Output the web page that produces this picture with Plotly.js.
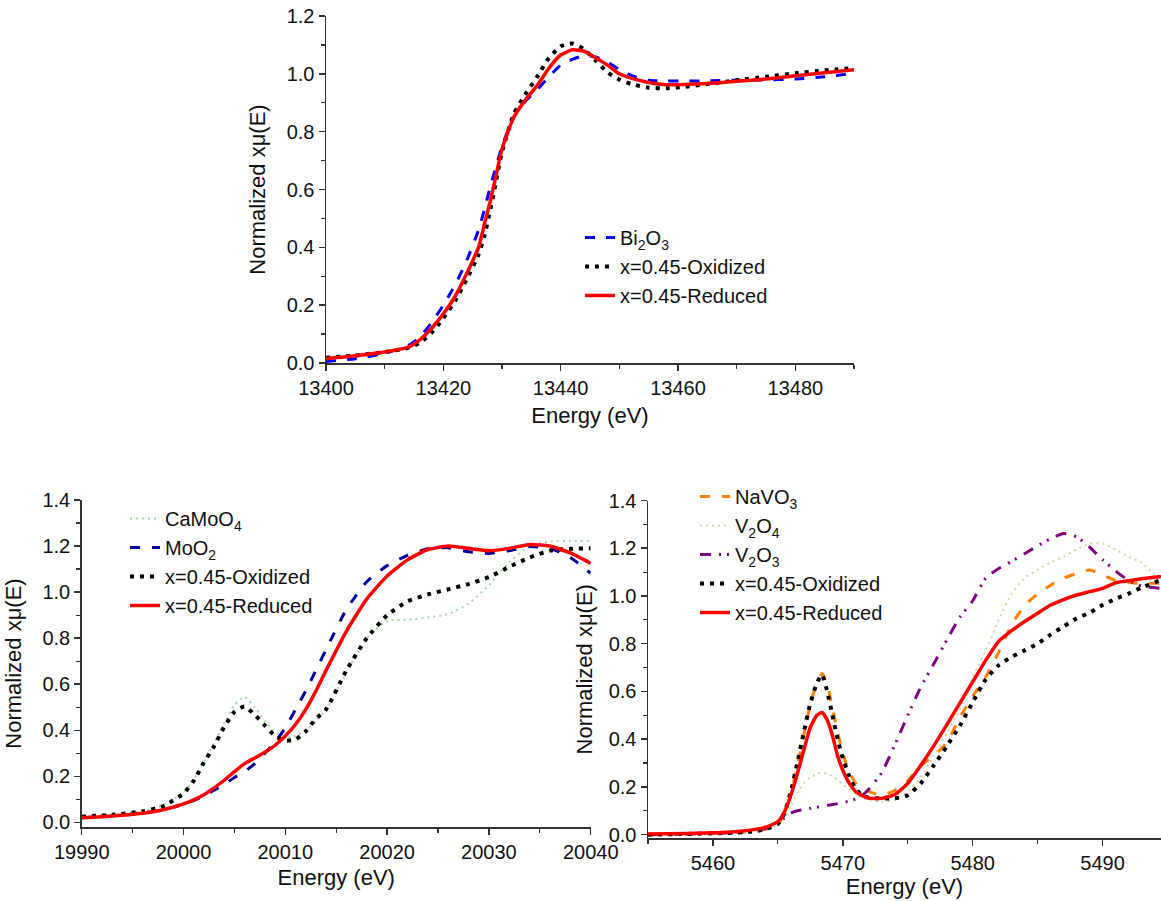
<!DOCTYPE html>
<html>
<head>
<meta charset="utf-8">
<script src="https://cdn.plot.ly/plotly-3.0.1.min.js"></script>
<style>html,body{margin:0;padding:0;background:#fff;}#chart{width:1161px;height:901px;}</style>
</head>
<body>
<div id="chart"></div>
<script>
// ---------- Top panel: Bi L3 edge ----------
const energyBi = [13400, 13405, 13410, 13414, 13416, 13418, 13420, 13422, 13424, 13426, 13427, 13428, 13429, 13430, 13432, 13434, 13436, 13438, 13440, 13442, 13444, 13446, 13448, 13450, 13452, 13455, 13458, 13461, 13465, 13470, 13475, 13480, 13485, 13490];
const bi2o3 = [0.005, 0.015, 0.033, 0.06, 0.09, 0.14, 0.2, 0.27, 0.355, 0.46, 0.53, 0.61, 0.68, 0.75, 0.85, 0.905, 0.945, 0.99, 1.03, 1.05, 1.063, 1.058, 1.04, 1.015, 0.995, 0.978, 0.975, 0.975, 0.976, 0.978, 0.979, 0.982, 0.99, 1.002];
const biOxidized = [0.018, 0.026, 0.038, 0.052, 0.07, 0.105, 0.155, 0.215, 0.29, 0.375, 0.44, 0.53, 0.63, 0.73, 0.86, 0.93, 0.99, 1.055, 1.095, 1.105, 1.085, 1.045, 1.005, 0.98, 0.965, 0.952, 0.95, 0.955, 0.965, 0.978, 0.99, 1.002, 1.012, 1.02];
const biReduced = [0.015, 0.025, 0.038, 0.055, 0.08, 0.12, 0.17, 0.23, 0.31, 0.40, 0.48, 0.56, 0.65, 0.74, 0.85, 0.91, 0.96, 1.02, 1.065, 1.083, 1.078, 1.055, 1.03, 1.0, 0.985, 0.97, 0.962, 0.963, 0.967, 0.974, 0.982, 0.993, 1.004, 1.014];

// ---------- Bottom-left panel: Mo K edge ----------
const energyMo = [19990, 19993, 19996, 19998, 20000, 20001, 20002, 20003, 20004, 20005, 20006, 20007, 20008, 20009, 20010, 20011, 20012, 20013, 20014, 20016, 20018, 20020, 20022, 20024, 20026, 20028, 20030, 20032, 20034, 20036, 20038, 20040];
const camoo4 = [0.025, 0.035, 0.05, 0.075, 0.13, 0.185, 0.265, 0.345, 0.43, 0.51, 0.545, 0.5, 0.44, 0.39, 0.37, 0.375, 0.4, 0.44, 0.49, 0.65, 0.8, 0.875, 0.88, 0.89, 0.905, 0.95, 1.03, 1.13, 1.2, 1.22, 1.222, 1.222];
const moo2 = [0.02, 0.028, 0.04, 0.055, 0.078, 0.095, 0.115, 0.14, 0.165, 0.195, 0.22, 0.255, 0.3, 0.35, 0.41, 0.49, 0.57, 0.66, 0.75, 0.925, 1.045, 1.115, 1.16, 1.188, 1.193, 1.175, 1.168, 1.18, 1.198, 1.19, 1.15, 1.082];
const moOxidized = [0.025, 0.033, 0.048, 0.07, 0.125, 0.18, 0.26, 0.33, 0.415, 0.48, 0.503, 0.467, 0.42, 0.375, 0.355, 0.36, 0.395, 0.45, 0.49, 0.66, 0.8, 0.9, 0.96, 0.99, 1.012, 1.035, 1.065, 1.11, 1.15, 1.18, 1.188, 1.19];
const moReduced = [0.02, 0.028, 0.04, 0.055, 0.08, 0.098, 0.12, 0.15, 0.183, 0.22, 0.255, 0.28, 0.305, 0.335, 0.375, 0.425, 0.49, 0.57, 0.66, 0.83, 0.97, 1.07, 1.14, 1.185, 1.2, 1.19, 1.18, 1.19, 1.207, 1.2, 1.17, 1.125];

// ---------- Bottom-right panel: V K edge ----------
const energyV = [5455, 5458, 5461, 5463, 5464, 5465, 5465.5, 5466, 5466.5, 5467, 5467.5, 5468, 5468.4, 5468.8, 5469.2, 5469.6, 5470, 5470.5, 5471, 5471.5, 5472, 5473, 5474, 5475, 5476, 5477, 5478, 5479, 5480, 5481, 5482, 5483, 5484, 5485, 5486, 5487, 5488, 5489, 5490, 5491, 5492, 5493, 5494.5];
const navo3 = [0.0, 0.003, 0.007, 0.013, 0.022, 0.045, 0.085, 0.17, 0.29, 0.42, 0.545, 0.635, 0.675, 0.63, 0.53, 0.43, 0.34, 0.26, 0.215, 0.195, 0.18, 0.165, 0.185, 0.225, 0.29, 0.33, 0.385, 0.49, 0.58, 0.66, 0.765, 0.88, 0.96, 1.008, 1.045, 1.075, 1.094, 1.109, 1.088, 1.065, 1.056, 1.053, 1.053];
const v2o4 = [0.0, 0.003, 0.007, 0.013, 0.022, 0.04, 0.07, 0.12, 0.175, 0.215, 0.24, 0.255, 0.26, 0.255, 0.245, 0.23, 0.21, 0.19, 0.17, 0.155, 0.145, 0.138, 0.145, 0.18, 0.24, 0.33, 0.425, 0.523, 0.66, 0.77, 0.9, 1.01, 1.075, 1.11, 1.14, 1.165, 1.195, 1.22, 1.22, 1.195, 1.165, 1.14, 1.06];
const v2o3 = [0.0, 0.003, 0.007, 0.013, 0.025, 0.045, 0.07, 0.09, 0.1, 0.105, 0.11, 0.115, 0.12, 0.123, 0.126, 0.13, 0.135, 0.14, 0.15, 0.165, 0.19, 0.26, 0.375, 0.5, 0.618, 0.715, 0.815, 0.91, 0.98, 1.075, 1.115, 1.145, 1.177, 1.21, 1.24, 1.262, 1.248, 1.205, 1.152, 1.105, 1.065, 1.042, 1.032];
const vOxidized = [0.0, 0.003, 0.007, 0.013, 0.022, 0.045, 0.09, 0.18, 0.3, 0.43, 0.55, 0.635, 0.67, 0.6, 0.5, 0.4, 0.32, 0.245, 0.19, 0.165, 0.155, 0.152, 0.152, 0.165, 0.215, 0.29, 0.37, 0.455, 0.555, 0.65, 0.71, 0.745, 0.772, 0.8, 0.838, 0.872, 0.906, 0.93, 0.962, 0.988, 1.01, 1.035, 1.067];
const vReduced = [0.003, 0.005, 0.01, 0.02, 0.03, 0.055, 0.095, 0.165, 0.255, 0.355, 0.45, 0.5, 0.512, 0.48, 0.415, 0.33, 0.27, 0.215, 0.18, 0.163, 0.153, 0.152, 0.168, 0.215, 0.29, 0.372, 0.46, 0.55, 0.64, 0.73, 0.81, 0.855, 0.893, 0.928, 0.962, 0.985, 1.004, 1.018, 1.032, 1.055, 1.064, 1.072, 1.082];

const labelOx = 'x=0.45-Oxidized';
const labelRed = 'x=0.45-Reduced';

const FONT = 'Arial, "Liberation Sans", sans-serif';
const sm = {shape: 'spline', smoothing: 0.5};

function tr(x, y, name, xa, ya, leg, line) {
  return {x: x, y: y, name: name, type: 'scatter', mode: 'lines', xaxis: xa, yaxis: ya,
          legend: leg, line: Object.assign({}, sm, line), hoverinfo: 'x+y+name'};
}

const dotBlack = {color: '#000000', width: 4, dash: '4px,6px'};
const solidRed = {color: '#ff0000', width: 3.5};

const data = [
  tr(energyBi, bi2o3, 'Bi<sub>2</sub>O<sub>3</sub>', 'x', 'y', 'legend', {color: '#0000ff', width: 3, dash: '10px,11px'}),
  tr(energyBi, biOxidized, labelOx, 'x', 'y', 'legend', dotBlack),
  tr(energyBi, biReduced, labelRed, 'x', 'y', 'legend', solidRed),

  tr(energyMo, camoo4, 'CaMoO<sub>4</sub>', 'x2', 'y2', 'legend2', {color: '#a3d6a3', width: 2, dash: '2px,4px'}),
  tr(energyMo, moo2, 'MoO<sub>2</sub>', 'x2', 'y2', 'legend2', {color: '#00009c', width: 3, dash: '10px,12px'}),
  tr(energyMo, moOxidized, labelOx, 'x2', 'y2', 'legend2', dotBlack),
  tr(energyMo, moReduced, labelRed, 'x2', 'y2', 'legend2', solidRed),

  tr(energyV, navo3, 'NaVO<sub>3</sub>', 'x3', 'y3', 'legend3', {color: '#ff8000', width: 3, dash: '10px,12px'}),
  tr(energyV, v2o4, 'V<sub>2</sub>O<sub>4</sub>', 'x3', 'y3', 'legend3', {color: '#d8d2a4', width: 2, dash: '2px,4px'}),
  tr(energyV, v2o3, 'V<sub>2</sub>O<sub>3</sub>', 'x3', 'y3', 'legend3', {color: '#800080', width: 3, dash: '11px,8px,2px,6px,2px,8px'}),
  tr(energyV, vOxidized, labelOx, 'x3', 'y3', 'legend3', dotBlack),
  tr(energyV, vReduced, labelRed, 'x3', 'y3', 'legend3', solidRed)
];

const W = 1161, H = 901;
function xd(a, b) { return [a / W, b / W]; }
function yd(top, bottom) { return [1 - bottom / H, 1 - top / H]; }

const tickFont = {family: FONT, size: 20, color: '#111111'};
const titleFont = {family: FONT, size: 22, color: '#111111'};

function xAxis(domain, range, dtick, minor, anchor, standoff) {
  return {domain: domain, range: range, anchor: anchor, showline: true, linecolor: '#333333', linewidth: 1.5,
          ticks: 'outside', ticklen: 6, tickwidth: 1.5, tickcolor: '#333333', dtick: dtick, tick0: 0,
          minor: {ticks: 'outside', ticklen: 4, tickwidth: 1.2, tickcolor: '#333333', dtick: minor},
          tickformat: 'd', showgrid: false, zeroline: false, tickfont: tickFont,
          title: {text: 'Energy (eV)', font: titleFont, standoff: standoff}};
}
function yAxis(domain, range, anchor, standoff) {
  return {domain: domain, range: range, anchor: anchor, showline: true, linecolor: '#333333', linewidth: 1.5,
          ticks: 'outside', ticklen: 6, tickwidth: 1.5, tickcolor: '#333333', dtick: 0.2, tick0: 0,
          minor: {ticks: 'outside', ticklen: 4, tickwidth: 1.2, tickcolor: '#333333', dtick: 0.1},
          tickformat: '.1f', showgrid: false, zeroline: false, tickfont: tickFont,
          title: {text: 'Normalized xμ(E)', font: titleFont, standoff: standoff}};
}

const legendBase = {bgcolor: 'rgba(0,0,0,0)', borderwidth: 0, font: {family: FONT, size: 20, color: '#111111'},
                    xanchor: 'left', yanchor: 'top', tracegroupgap: 0};

const layout = {
  width: W, height: H,
  margin: {l: 0, r: 0, t: 0, b: 0},
  paper_bgcolor: '#ffffff', plot_bgcolor: 'rgba(0,0,0,0)',
  font: {family: FONT, size: 19, color: '#111111'},
  showlegend: true,
  xaxis: xAxis(xd(326, 854), [13400, 13490], 20, 10, 'y', 10),
  yaxis: yAxis(yd(16, 363), [0, 1.2], 'x', 15),
  xaxis2: xAxis(xd(81.7, 590.7), [19990, 20040], 10, 5, 'y2', 8),
  yaxis2: yAxis(yd(500, 827), [-0.02, 1.4], 'x2', 14),
  xaxis3: xAxis(xd(648, 1161), [5455, 5494.5], 10, 5, 'y3', 6),
  yaxis3: yAxis(yd(500.5, 838), [-0.014, 1.4], 'x3', 10),
  legend: Object.assign({}, legendBase, {x: 580 / W, y: 1 - 218 / H}),
  legend2: Object.assign({}, legendBase, {x: 125 / W, y: 1 - 499 / H}),
  legend3: Object.assign({}, legendBase, {x: 695 / W, y: 1 - 477 / H})
};

Plotly.newPlot('chart', data, layout, {displayModeBar: false, staticPlot: true});
</script>
</body>
</html>
